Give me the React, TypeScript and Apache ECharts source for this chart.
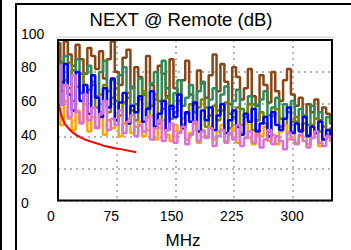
import React, { useEffect, useRef } from "react";
import * as echarts from "echarts";

const titleText = "NEXT @ Remote (dB)";
const xAxisName = "MHz";
const xTickLabels = ["0", "75", "150", "225", "300"];
const yTickLabels = ["0", "20", "40", "60", "80", "100"];

// frequency points (MHz)
const freqMHz = [
  1, 5, 10, 15, 20, 25, 30, 35, 40, 45, 50, 55, 60, 65, 70, 75, 80, 85, 90, 95, 100,
  105, 110, 115, 120, 125, 130, 135, 140, 145, 150, 155, 160, 165, 170, 175, 180, 185, 190, 195,
  200, 205, 210, 215, 220, 225, 230, 235, 240, 245, 250, 255, 260, 265, 270, 275, 280, 285, 290, 295,
  300, 305, 310, 315, 320, 325, 330, 335, 340, 345, 350,
];

const brownDb = [
  98, 86, 99, 91, 84, 97, 88, 79, 95, 90, 82, 93, 76, 88, 99, 80, 72, 89, 94, 70, 83,
  77, 66, 90, 72, 63, 84, 79, 65, 88, 70, 62, 75, 87, 66, 60, 81, 73, 64, 78,
  91, 68, 85, 74, 60, 83, 77, 63, 70, 82, 65, 59, 78, 72, 61, 80, 68, 62, 75, 82,
  66, 59, 64, 52, 60, 55, 63, 50, 58, 54, 48,
];
const greenDb = [
  86, 74, 90, 70, 81, 88, 67, 79, 84, 72, 65, 80, 87, 68, 75, 62, 78, 83, 64, 71, 60,
  76, 66, 58, 73, 80, 62, 87, 70, 57, 67, 75, 59, 64, 72, 55, 68, 74, 58, 63,
  70, 56, 66, 71, 54, 62, 69, 57, 52, 65, 60, 50, 63, 68, 53, 58, 64, 51, 60, 55,
  62, 49, 57, 53, 47, 59, 51, 55, 46, 52, 49,
];
const oliveDb = [
  82, 68, 75, 86, 62, 71, 79, 60, 69, 74, 58, 66, 72, 55, 64, 70, 53, 61, 67, 56, 50,
  63, 68, 52, 59, 66, 48, 57, 64, 51, 55, 62, 47, 54, 60, 49, 58, 63, 46, 53,
  59, 50, 56, 61, 45, 52, 58, 47, 54, 60, 44, 50, 55, 48, 43, 53, 57, 46, 51, 42,
  49, 52, 44, 48, 41, 47, 51, 43, 46, 40, 45,
];
const orangeDb = [
  58, 47, 62, 51, 44, 56, 49, 60, 43, 52, 46, 55, 41, 50, 45, 53, 40, 48, 51, 42, 46,
  49, 40, 44, 53, 38, 45, 50, 41, 37, 47, 43, 51, 38, 42, 48, 36, 44, 40, 46,
  38, 43, 47, 37, 41, 45, 36, 42, 48, 39, 35, 44, 40, 46, 37, 41, 35, 43, 47, 38,
  42, 36, 40, 44, 35, 39, 42, 34, 38, 41, 37,
];
const blueDb = [
  74, 60, 85, 66, 56, 80, 62, 72, 54, 78, 64, 52, 70, 58, 76, 50, 61, 67, 48, 59, 55,
  65, 49, 57, 68, 46, 54, 62, 44, 59, 52, 66, 45, 55, 49, 61, 43, 56, 50, 58,
  44, 53, 60, 42, 50, 56, 46, 41, 54, 49, 57, 43, 48, 52, 40, 55, 47, 44, 51, 58,
  42, 48, 43, 52, 40, 46, 42, 49, 38, 44, 41,
];
const orchidDb = [
  84, 60, 72, 52, 78, 55, 48, 66, 50, 58, 45, 54, 62, 44, 51, 47, 56, 42, 49, 53, 40,
  47, 43, 52, 38, 45, 50, 37, 44, 48, 36, 42, 46, 35, 41, 49, 37, 43, 39, 45,
  34, 40, 44, 36, 42, 38, 47, 34, 39, 43, 36, 41, 33, 38, 44, 35, 40, 37, 32, 42,
  38, 35, 41, 37, 33, 39, 43, 36, 34, 40, 37,
];

// limit line
const limitFreq = [1, 4, 8, 10, 16, 20, 25, 31.25, 40, 50, 62.5, 80, 100];
const limitDb = [60, 53.5, 48.6, 47, 43.6, 42, 40.3, 38.7, 37, 35.5, 33.6, 32, 30.1];

const FONT = "Liberation Sans, Arial, sans-serif";

const measured = [
  { name: "brown", color: "#8B4513", values: brownDb },
  { name: "green", color: "#2E8B57", values: greenDb },
  { name: "olive", color: "#808000", values: oliveDb },
  { name: "orange", color: "#FFA500", values: orangeDb },
  { name: "blue", color: "#0000FF", values: blueDb },
  { name: "orchid", color: "#DA70D6", values: orchidDb },
];

export default function App() {
  const ref = useRef<HTMLDivElement>(null);
  useEffect(() => {
    if (!ref.current) return;
    const chart = echarts.init(ref.current, null, { renderer: "svg" });
    const dotted = { color: "#b4b4b4", type: [2, 4] as any, width: 2 };
    const series: any[] = measured.map((m) => ({
      type: "line",
      name: m.name,
      xAxisIndex: 0,
      yAxisIndex: 0,
      step: "middle",
      showSymbol: false,
      lineStyle: { color: m.color, width: 2.5 },
      data: freqMHz.map((f, i) => [f, m.values[i]]),
    }));
    series.push({
      type: "line",
      name: "limit",
      xAxisIndex: 0,
      yAxisIndex: 0,
      showSymbol: false,
      smooth: true,
      lineStyle: { color: "#FF0000", width: 2 },
      data: limitFreq.map((f, i) => [f, limitDb[i]]),
    });
    chart.setOption({
      animation: false,
      backgroundColor: "#ffffff",
      grid: [
        { left: 58, top: 40, width: 274, height: 160.5, show: false },
        { left: 51, top: 33.5, width: 281.2, height: 169, show: false },
      ],
      xAxis: [
        {
          type: "value",
          gridIndex: 0,
          min: 0,
          max: 350,
          interval: 75,
          axisLine: { show: false },
          axisTick: { show: false },
          axisLabel: { show: false },
          splitLine: { show: true, lineStyle: dotted },
        },
        {
          type: "value",
          gridIndex: 1,
          min: 0,
          max: 350,
          interval: 75,
          axisLine: { show: false },
          axisTick: { show: false },
          splitLine: { show: false },
          axisLabel: {
            show: true,
            margin: 6,
            fontSize: 14,
            fontFamily: FONT,
            color: "#000",
            showMaxLabel: false,
            formatter: (v: number) => {
              const idx = Math.round(v / 75);
              return v % 75 === 0 && idx < xTickLabels.length ? xTickLabels[idx] : "";
            },
          },
        },
      ],
      yAxis: [
        {
          type: "value",
          gridIndex: 0,
          min: 0,
          max: 100,
          interval: 20,
          axisLine: { show: false },
          axisTick: { show: false },
          axisLabel: { show: false },
          splitLine: { show: true, lineStyle: dotted },
        },
        {
          type: "value",
          gridIndex: 1,
          min: 0,
          max: 100,
          interval: 20,
          axisLine: { show: false },
          axisTick: { show: false },
          splitLine: { show: false },
          axisLabel: {
            show: true,
            margin: 30,
            align: "left",
            fontSize: 14,
            fontFamily: FONT,
            color: "#000",
            formatter: (v: number) => yTickLabels[Math.round(v / 20)] ?? "",
          },
        },
      ],
      graphic: [
        { type: "line", shape: { x1: 1, y1: 0, x2: 1, y2: 250 }, style: { stroke: "#000", lineWidth: 2 } },
        { type: "line", shape: { x1: 16, y1: 4, x2: 16, y2: 250 }, style: { stroke: "#000", lineWidth: 2 } },
        { type: "line", shape: { x1: 15, y1: 4, x2: 351, y2: 4 }, style: { stroke: "#000", lineWidth: 2 } },
        { type: "line", shape: { x1: 56, y1: 37, x2: 333, y2: 37 }, style: { stroke: "#c8c8c8", lineWidth: 1 } },
        {
          type: "rect",
          z: 100,
          shape: { x: 58, y: 40, width: 274, height: 160.5 },
          style: { fill: "none", stroke: "#000", lineWidth: 2 },
        },
        {
          type: "text",
          x: 181,
          y: 19.5,
          style: {
            text: titleText,
            fontSize: 18.5,
            fontFamily: FONT,
            fill: "#000",
            textAlign: "center",
            textVerticalAlign: "middle",
          },
        },
        {
          type: "text",
          x: 183,
          y: 240,
          style: {
            text: xAxisName,
            fontSize: 17,
            fontFamily: FONT,
            fill: "#000",
            textAlign: "center",
            textVerticalAlign: "middle",
          },
        },
      ],
      series,
    });
    return () => chart.dispose();
  }, []);
  return (
    <div
      ref={ref}
      style={{ position: "fixed", left: 0, top: 0, width: 351, height: 250, background: "#fff" }}
    />
  );
}
